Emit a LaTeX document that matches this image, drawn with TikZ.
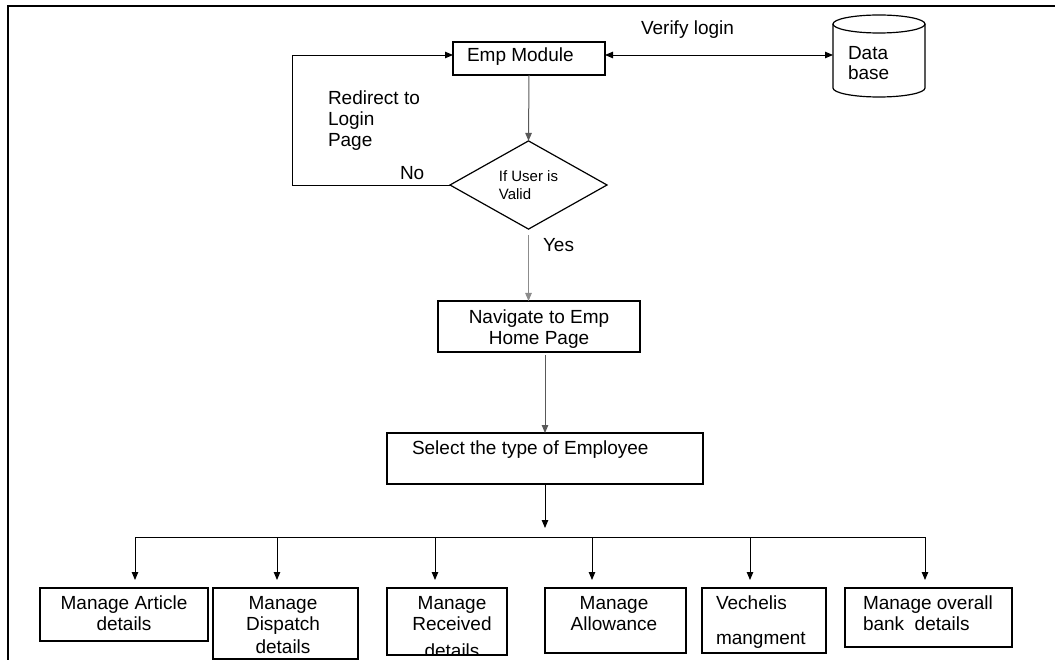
\documentclass[tikz,border=0pt]{standalone}
\usepackage{fontspec}
\setmainfont{Liberation Sans}
\usetikzlibrary{arrows.meta,shapes.geometric,calc}
\begin{document}
\begin{tikzpicture}[x=1pt,y=-1pt,
  every node/.style={inner sep=0pt, outer sep=0pt},
  fs/.style={font=\fontsize{19}{21}\selectfont},
  box/.style={draw=black, line width=1.2pt},
  tip/.style={-{Triangle[length=8pt,width=6.5pt]}},
  conn/.style={line width=0.9pt, tip},
  gconn/.style={line width=1pt, draw=black!65, tip},
  yconn/.style={line width=0.8pt, draw=black!45, tip}
]
\useasboundingbox (0,0) rectangle (1055,660);
% frame
\draw[line width=2.5pt] (8,660) -- (8,6) -- (1055,6);

% top part
\node[box, minimum width=152pt, minimum height=33pt] (emp) at (529,58.5) {};
\node[fs, anchor=west] (empt) at (467,57) {Emp Module};

\node[draw, line width=1.2pt, diamond, minimum width=157pt, minimum height=76pt,
      font=\fontsize{15}{18}\selectfont, align=left] (dec) at (528.5,185) {If User is\\Valid};

\node (db) [minimum width=92pt, minimum height=82pt] at (879,56) {};
\draw[line width=1.2pt] (833,24) -- (833,88)
   arc[start angle=180, end angle=360, x radius=46pt, y radius=9pt] -- (925,24);
\draw[line width=1.2pt] (879,24) ellipse [x radius=46pt, y radius=9pt];
\node[anchor=north west, align=left, font=\fontsize{19}{20}\selectfont] (dbt) at (848,46) {Data\\base};

\node[fs, anchor=west] (vl) at (641,30) {Verify login};
\node[fs, anchor=north west, align=left] (rd) at (328,91) {Redirect to\\Login\\Page};
\node[fs, anchor=west] (no) at (400,173) {No};
\node[fs, anchor=west] (yes) at (543,245) {Yes};

\coordinate (lp1) at (292,185);
\coordinate (lp2) at (292,55);

\draw[gconn] (emp.south) -- (dec.north);
\draw[conn] (dec.west) -- (lp1) -- (lp2) -- (emp.west |- lp2);
\draw[line width=0.9pt, {Triangle[length=8pt,width=6.5pt]}-{Triangle[length=8pt,width=6.5pt]}]
   (emp.east |- lp2) -- (db.west |- lp2);

% middle
\node[box, minimum width=202pt, minimum height=51pt] (nav) at (539,326.5) {};
\node[fs, anchor=north, align=center] (navt) at (539,310) {Navigate to Emp\\Home Page};
\draw[yconn] ($(dec.south)+(0,6)$) -- (dec.south |- nav.north);

\node[box, minimum width=316pt, minimum height=51pt] (sel) at (545,458.5) {};
\node[fs, anchor=north west] (selt) at (412,441) {Select the type of Employee};
\draw[gconn] ($(sel.north |- nav.south)+(0,3)$) -- (sel.north);

% bus
\coordinate (d1) at (135,537);
\coordinate (d2) at (277,537);
\coordinate (d3) at (435,537);
\coordinate (d4) at (592,537);
\coordinate (d5) at (750,537);
\coordinate (d6) at (925,537);
\draw[conn, shorten >=9pt] (sel.south) -- (sel.south |- d1);
\draw[line width=0.9pt] (d1) -- (d6);

% bottom boxes
\node[box, minimum width=168pt, minimum height=53pt] (b1) at (124,614.5) {};
\node[box, minimum width=145pt, minimum height=71pt] (b2) at (285.5,623.5) {};
\node[box, minimum width=120pt, minimum height=67pt] (b3) at (447,621.5) {};
\node[box, minimum width=141pt, minimum height=65pt] (b4) at (615.5,620.5) {};
\node[box, minimum width=124pt, minimum height=65pt] (b5) at (764,620.5) {};
\node[box, minimum width=167pt, minimum height=59pt] (b6) at (928.5,617.5) {};

\node[fs, anchor=north, align=center] (t1) at (124,596) {Manage Article\\details};
\node[fs, anchor=north, align=center] (t2) at (283,596) {Manage\\Dispatch\\[2pt]details};
\begin{scope}
  \clip (b3.north west) rectangle ([yshift=0.6pt]b3.south east);
  \node[fs, anchor=north, align=center] (t3) at (452,596) {Manage\\Received\\[6pt]details};
\end{scope}
\node[fs, anchor=north, align=center] (t4) at (614,596) {Manage\\Allowance};
\node[fs, anchor=north west, align=left] (t5) at (716,596) {Vechelis\\[14pt]mangment};
\node[fs, anchor=north west, align=left] (t6) at (863,596) {Manage overall\\bank\ \ details};

\foreach \d/\b in {d1/b1,d2/b2,d3/b3,d4/b4,d5/b5,d6/b6}
  \draw[conn, shorten >=8pt] (\d) -- (\d |- \b.north);
\end{tikzpicture}
\end{document}
